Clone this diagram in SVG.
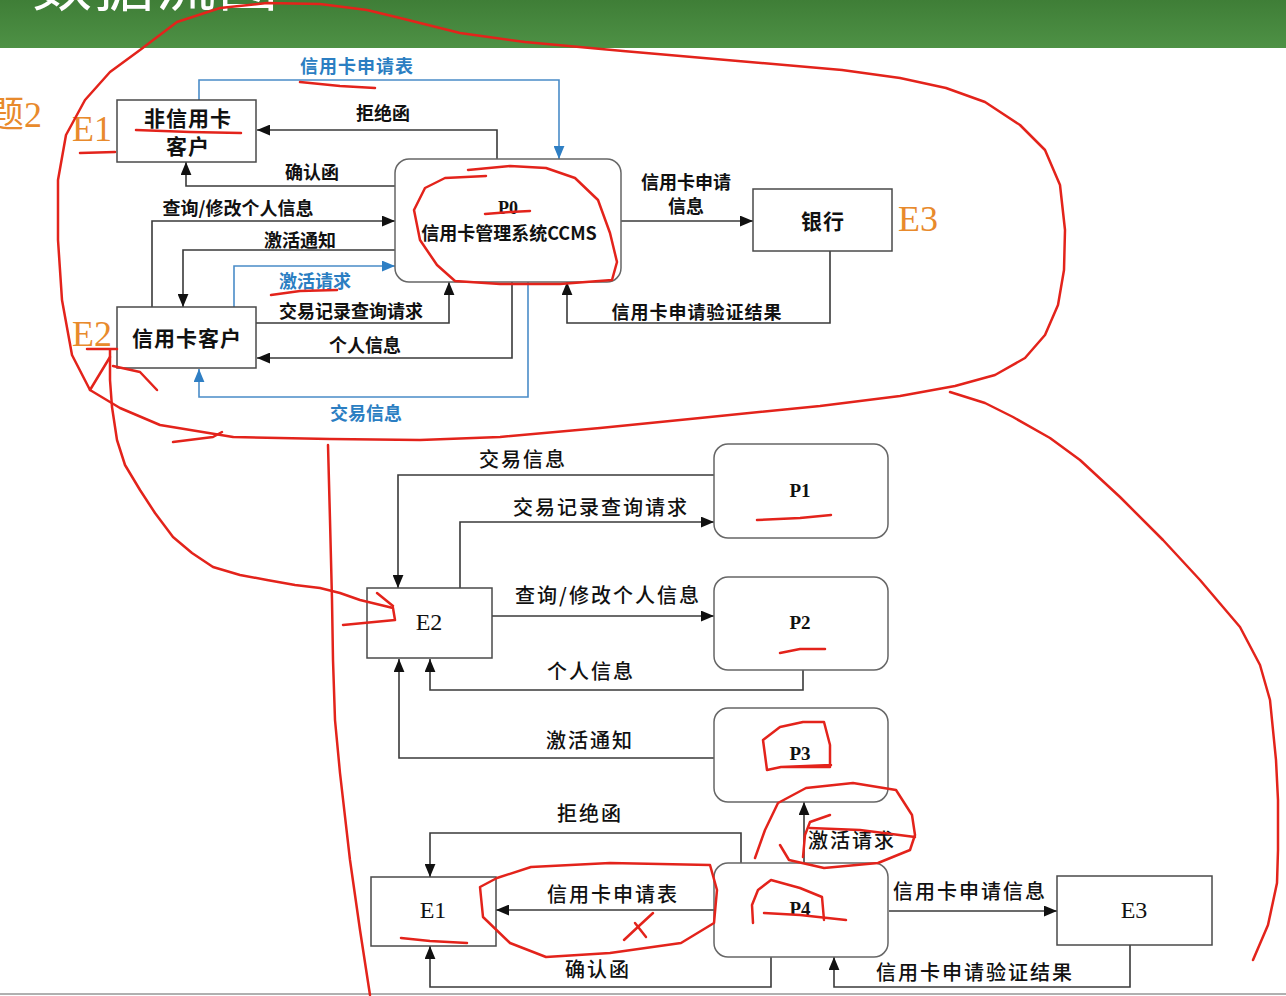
<svg xmlns="http://www.w3.org/2000/svg" width="1286" height="996" viewBox="0 0 1286 996">
<defs>
<linearGradient id="hdr" x1="0" y1="0" x2="0" y2="1">
<stop offset="0" stop-color="#3f7e37"/>
<stop offset="1" stop-color="#4e9145"/>
</linearGradient>
<marker id="ah" viewBox="0 0 12 10" refX="12" refY="5" markerWidth="13" markerHeight="11" orient="auto" markerUnits="userSpaceOnUse"><path d="M0,0 L12,5 L0,10 z" fill="#111"/></marker>
<marker id="ahb" viewBox="0 0 12 10" refX="12" refY="5" markerWidth="13" markerHeight="11" orient="auto" markerUnits="userSpaceOnUse"><path d="M0,0 L12,5 L0,10 z" fill="#2f7fc4"/></marker>
<style>
.box{fill:#fff;stroke:#4a4a4a;stroke-width:1.5}
.pbox{fill:#fff;stroke:#666;stroke-width:1.5}
.ln{fill:none;stroke:#3a3a3a;stroke-width:1.6;marker-end:url(#ah)}
.lb{fill:none;stroke:#4a8cc8;stroke-width:1.6;marker-end:url(#ahb)}
.t1{font-family:"Noto Sans CJK SC","Liberation Sans",sans-serif;font-weight:700;font-size:18px;fill:#111;text-anchor:middle;dominant-baseline:central}
.tb{fill:#2b7ec2}
.tn{font-family:"Noto Sans CJK SC","Liberation Sans",sans-serif;font-weight:700;font-size:21px;fill:#111;text-anchor:middle;dominant-baseline:central;letter-spacing:1px}
.t2{font-family:"Noto Sans CJK SC","Liberation Sans",sans-serif;font-weight:500;font-size:20px;fill:#111;text-anchor:middle;dominant-baseline:central;letter-spacing:2px}
.ser{font-family:"Liberation Serif","Noto Sans CJK SC",serif;fill:#111;text-anchor:middle;dominant-baseline:central}
.or{font-family:"Liberation Serif","Noto Sans CJK SC",serif;fill:#e88a2c;font-size:36px}
.red{fill:none;stroke:#e3231b;stroke-width:2.5;stroke-linecap:round;stroke-linejoin:round}
</style>
</defs>
<rect x="0" y="0" width="1286" height="996" fill="#fff"/>
<rect x="0" y="0" width="1286" height="48" fill="url(#hdr)"/>
<text x="32" y="6" font-family="Noto Sans CJK SC, sans-serif" font-size="60" fill="#fff" letter-spacing="2">数据流图</text>
<line x1="0" y1="994" x2="1286" y2="994" stroke="#b0b0b0" stroke-width="2"/>
<text x="42" y="127" class="or" text-anchor="end" font-size="42">题2</text>
<text x="72" y="141" class="or">E1</text>
<text x="72" y="346" class="or">E2</text>
<text x="898" y="231" class="or">E3</text>

<g id="connectors">
<path class="lb" d="M199,100 V80 H559 V159"/>
<path class="ln" d="M497,159 V130 H257"/>
<path class="ln" d="M395,186 H186 V162"/>
<path class="ln" d="M152,307 V221 H395"/>
<path class="ln" d="M395,250 H183 V307"/>
<path class="lb" d="M234,307 V266 H395"/>
<path class="ln" d="M256,323 H449 V282"/>
<path class="ln" d="M512,282 V358 H257"/>
<path class="lb" d="M528,282 V397 H199 V369"/>
<path class="ln" d="M621,221 H753"/>
<path class="ln" d="M830,251 V323 H567 V282"/>

<path class="ln" d="M714,475 H398 V588"/>
<path class="ln" d="M460,588 V522 H714"/>
<path class="ln" d="M492,616 H714"/>
<path class="ln" d="M803,670 V690 H430 V659"/>
<path class="ln" d="M714,758 H399 V659"/>
<path class="ln" d="M804,863 V802"/>
<path class="ln" d="M741,863 V833 H430 V877"/>
<path class="ln" d="M714,910 H496"/>
<path class="ln" d="M771,957 V987 H430 V946"/>
<path class="ln" d="M889,911 H1057"/>
<path class="ln" d="M1130,945 V987 H834 V957"/>
</g>

<g id="labels">
<text class="t1 tb" x="357" y="65" letter-spacing="1">信用卡申请表</text>
<text class="t1" x="383" y="112">拒绝函</text>
<text class="t1" x="312" y="171">确认函</text>
<text class="t1" x="238" y="207">查询/修改个人信息</text>
<text class="t1" x="300" y="239">激活通知</text>
<text class="t1 tb" x="315" y="280">激活请求</text>
<text class="t1" x="351" y="310">交易记录查询请求</text>
<text class="t1" x="365" y="344">个人信息</text>
<text class="t1 tb" x="366" y="412">交易信息</text>
<text class="t1" x="686" y="181">信用卡申请</text>
<text class="t1" x="686" y="205">信息</text>
<text class="t1" x="697" y="311" letter-spacing="1">信用卡申请验证结果</text>

<text class="t2" x="523" y="458">交易信息</text>
<text class="t2" x="601" y="506">交易记录查询请求</text>
<text class="t2" x="608" y="594">查询/修改个人信息</text>
<text class="t2" x="591" y="670">个人信息</text>
<text class="t2" x="590" y="739">激活通知</text>
<text class="t2" x="590" y="812">拒绝函</text>
<text class="t2" x="613" y="893">信用卡申请表</text>
<text class="t2" x="598" y="968">确认函</text>
<text class="t2" x="852" y="839">激活请求</text>
<text class="t2" x="970" y="890">信用卡申请信息</text>
<text class="t2" x="975" y="971">信用卡申请验证结果</text>
</g>

<g id="E1top"><rect class="box" x="117" y="100" width="139" height="62"/><text class="tn" x="188" y="117">非信用卡</text><text class="tn" x="188" y="145">客户</text></g>
<g id="P0top"><rect class="pbox" x="395" y="159" width="226" height="123" rx="14"/><text class="ser" x="508" y="208" font-size="18" font-weight="700">P0</text><text class="t1" x="509" y="232" font-weight="500" font-size="17.5">信用卡管理系统CCMS</text></g>
<g id="E3top"><rect class="box" x="753" y="189" width="139" height="62"/><text class="tn" x="823" y="220">银行</text></g>
<g id="E2top"><rect class="box" x="117" y="307" width="139" height="61"/><text class="tn" x="187" y="337">信用卡客户</text></g>

<g id="P1"><rect class="pbox" x="714" y="444" width="174" height="94" rx="14"/><text class="ser" x="800" y="490" font-size="19" font-weight="700">P1</text></g>
<g id="P2"><rect class="pbox" x="714" y="577" width="174" height="93" rx="14"/><text class="ser" x="800" y="622" font-size="19" font-weight="700">P2</text></g>
<g id="P3"><rect class="pbox" x="714" y="708" width="174" height="94" rx="14"/><text class="ser" x="800" y="753" font-size="19" font-weight="700">P3</text></g>
<g id="P4"><rect class="pbox" x="714" y="863" width="174" height="94" rx="14"/><text class="ser" x="800" y="908" font-size="19" font-weight="700">P4</text></g>
<g id="E2"><rect class="box" x="367" y="588" width="125" height="70"/><text class="ser" x="429" y="622" font-size="24">E2</text></g>
<g id="E1"><rect class="box" x="371" y="877" width="125" height="69"/><text class="ser" x="433" y="910" font-size="24">E1</text></g>
<g id="E3"><rect class="box" x="1057" y="876" width="155" height="69"/><text class="ser" x="1134" y="910" font-size="24">E3</text></g>

<g id="annotations">
<polyline class="red" points="233,437 160,425 120,408 90,390 72,355 62,300 58,240 58,180 66,135 85,100 110,72 140,50 177,22 220,8 267,3 320,4 367,10 400,18 460,33 525,42 623,51 738,61 842,70 900,78 946,88 985,102 1020,125 1045,150 1060,185 1065,230 1064,270 1058,305 1045,335 1025,358 995,375 955,386 900,396 820,406 700,418 600,428 500,437 420,440 330,439 233,437"/>
<polyline class="red" points="173,442 213,437 222,432"/>
<polyline class="red" points="950,392 985,403 1013,417 1050,438 1080,460 1120,497 1163,540 1200,580 1240,627 1260,665 1270,700 1276,760 1278,800 1278,850 1277,883 1268,925 1253,960"/>
<polyline class="red" points="328,445 330,520 332,600 333,660 335,720 340,773 350,860 360,930 370,995"/>
<polyline class="red" points="110,350 110,380 112,407 117,440 125,465 140,490 155,513 173,537 192,553 213,567 240,575 267,580 295,585 320,588 340,593 360,600 393,608 395,620 343,625"/>
<polyline class="red" points="377,593 393,606"/>
<polyline class="red" points="87,349 117,349"/>
<polyline class="red" points="90,390 110,357"/>
<polyline class="red" points="113,366 140,372 157,390"/>
<polyline class="red" points="300,82 340,86 375,88"/>
<polyline class="red" points="136,130 190,132 241,133"/>
<polyline class="red" points="80,153 115,152"/>
<polyline class="red" points="468,170 510,166 546,168 575,178 598,200 610,233 617,262 612,280 560,284 500,284 455,281 437,265 420,240 414,210 425,188 445,178 486,176"/>
<polyline class="red" points="485,214 510,212 530,211"/>
<polyline class="red" points="271,295 300,291 337,290"/>
<polyline class="red" points="757,520 800,518 831,515"/>
<polyline class="red" points="780,653 800,649 825,649"/>
<polyline class="red" points="781,767 767,770 763,740 780,727 803,722 824,722 830,745 830,767 781,767 831,765"/>
<polyline class="red" points="755,858 765,830 778,803 806,788 853,783 896,790 912,815 915,835 910,850 878,863 824,868 789,860 780,845"/>
<polyline class="red" points="803,857 805,835 810,822 830,815"/>
<polyline class="red" points="810,828 860,830 915,837"/>
<polyline class="red" points="753,923 752,905 758,890 771,880 800,888 822,897 824,920"/>
<polyline class="red" points="764,913 800,915 846,920"/>
<polyline class="red" points="497,878 531,867 610,863 710,865 717,890 714,923 681,943 610,953 546,957 510,943 483,917 480,887 497,878"/>
<polyline class="red" points="624,940 640,925 653,913"/>
<polyline class="red" points="635,923 646,937"/>
<polyline class="red" points="401,938 430,941 467,943"/>
</g>
</svg>
